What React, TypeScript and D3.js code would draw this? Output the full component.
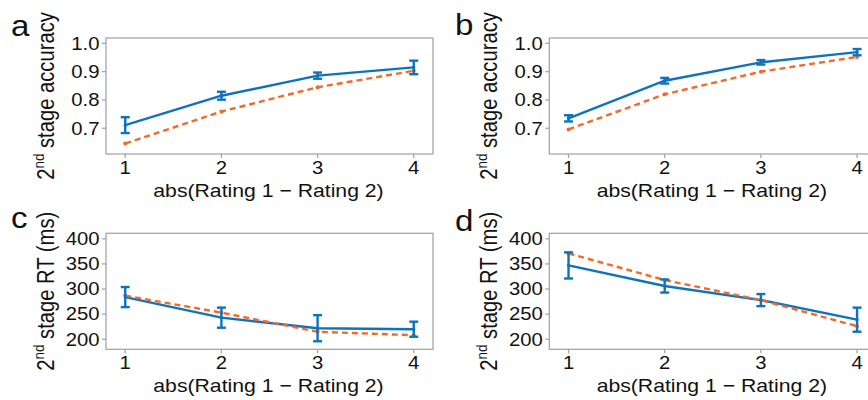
import React from "react";
import * as d3 from "d3";

const xCats = [1, 2, 3, 4];
const xTickLabels = ["1", "2", "3", "4"];

// Panel a: 2nd stage accuracy
const aBlueMean = [0.711, 0.815, 0.886, 0.915];
const aBlueErr = [0.028, 0.014, 0.011, 0.024];
const aOrange = [0.646, 0.759, 0.845, 0.903];
// Panel b
const bBlueMean = [0.735, 0.868, 0.933, 0.969];
const bBlueErr = [0.011, 0.01, 0.008, 0.011];
const bOrange = [0.696, 0.82, 0.9, 0.952];
// Panel c: 2nd stage RT
const cBlueMean = [284, 243, 222, 220];
const cBlueErr = [20, 20, 26, 15];
const cOrange = [287, 253, 215, 208];
// Panel d
const dBlueMean = [347, 306, 278, 239];
const dBlueErr = [26, 13, 12, 24];
const dOrange = [371, 318, 278, 226];

const accTicks = [0.7, 0.8, 0.9, 1.0];
const rtTicks = [200, 250, 300, 350, 400];

const BLUE = "#0F73BA";
const ORANGE = "#F4682A";
const GREY = "#A6A6A6";
const FONT = "'Liberation Sans', Arial, sans-serif";
const SX = 1.14;

type PanelProps = {
  letter: string;
  left: number;
  top: number;
  yDomain: [number, number];
  yTicks: number[];
  yFmt: (v: number) => string;
  yTitle: string;
  blue: number[];
  err: number[];
  orange: number[];
  letterPos: [number, number];
};

function Panel(p: PanelProps) {
  const W = 327;
  const H = 116;
  const x = d3.scaleLinear().domain([0.8, 4.2]).range([p.left, p.left + W]);
  const y = d3.scaleLinear().domain(p.yDomain).range([p.top + H, p.top]);
  const blueLine = d3
    .line<number>()
    .x((_, i) => x(xCats[i]))
    .y((v) => y(v));
  const bottom = p.top + H;
  const cap = 4.5;
  return (
    <g>
      <text
        transform={`translate(${p.letterPos[0]},${p.letterPos[1]}) scale(${SX},1)`}
        fontSize={29}
        fontFamily={FONT}
        fill="#111"
      >
        {p.letter}
      </text>
      <rect x={p.left} y={p.top} width={W} height={H} fill="white" stroke={GREY} strokeWidth={1.3} />
      {p.yTicks.map((t) => (
        <g key={t}>
          <line x1={p.left - 4} x2={p.left} y1={y(t)} y2={y(t)} stroke={GREY} strokeWidth={1.3} />
          <text
            transform={`translate(${p.left - 6.5},${y(t) + 6.3}) scale(${SX},1)`}
            textAnchor="end"
            fontSize={17.8}
            fontFamily={FONT}
            fill="#111"
          >
            {p.yFmt(t)}
          </text>
        </g>
      ))}
      {xCats.map((c, i) => (
        <g key={c}>
          <line x1={x(c)} x2={x(c)} y1={bottom} y2={bottom + 4} stroke={GREY} strokeWidth={1.3} />
          <text
            transform={`translate(${x(c)},${bottom + 19.5}) scale(${SX},1)`}
            textAnchor="middle"
            fontSize={17.8}
            fontFamily={FONT}
            fill="#111"
          >
            {xTickLabels[i]}
          </text>
        </g>
      ))}
      <text
        transform={`translate(${p.left + W / 2 - 1},${bottom + 42.7}) scale(${SX},1)`}
        textAnchor="middle"
        fontSize={18.6}
        fontFamily={FONT}
        fill="#111"
      >
        abs(Rating 1 − Rating 2)
      </text>
      <text
        transform={`translate(${p.left - 52.5},${p.top + H / 2}) scale(${SX},1) rotate(-90)`}
        textAnchor="middle"
        fontSize={20.2}
        fontFamily={FONT}
        fill="#111"
      >
        <tspan>2</tspan>
        <tspan dy={-8.5} fontSize={13.5}>nd</tspan>
        <tspan dy={8.5}>{" " + p.yTitle}</tspan>
      </text>
      <path d={blueLine(p.blue) || ""} fill="none" stroke={BLUE} strokeWidth={2.4} />
      <path
        d={blueLine(p.orange) || ""}
        fill="none"
        stroke={ORANGE}
        strokeWidth={2.4}
        strokeDasharray="6,4"
      />
      {p.orange.map((v, i) => (
        <circle key={"o" + i} cx={x(xCats[i])} cy={y(v)} r={2} fill={ORANGE} />
      ))}
      {p.blue.map((v, i) => {
        const cx = x(xCats[i]);
        const y1 = y(v + p.err[i]);
        const y2 = y(v - p.err[i]);
        return (
          <g key={"b" + i} stroke={BLUE} strokeWidth={2.4}>
            <line x1={cx} x2={cx} y1={y1} y2={y2} />
            <line x1={cx - cap} x2={cx + cap} y1={y1} y2={y1} />
            <line x1={cx - cap} x2={cx + cap} y1={y2} y2={y2} />
            <circle cx={cx} cy={y(v)} r={1.6} fill={BLUE} stroke="none" />
          </g>
        );
      })}
    </g>
  );
}

export default function App() {
  const accFmt = (v: number) => d3.format(".1f")(v);
  const rtFmt = (v: number) => String(v);
  return (
    <svg
      width={868}
      height={400}
      style={{ position: "absolute", left: 0, top: 0, background: "white" }}
    >
      <rect width={868} height={400} fill="white" />
      <Panel
        letter="a"
        left={106}
        top={38}
        yDomain={[0.609, 1.019]}
        yTicks={accTicks}
        yFmt={accFmt}
        yTitle="stage accuracy"
        blue={aBlueMean}
        err={aBlueErr}
        orange={aOrange}
        letterPos={[11, 36]}
      />
      <Panel
        letter="b"
        left={549.3}
        top={38}
        yDomain={[0.609, 1.019]}
        yTicks={accTicks}
        yFmt={accFmt}
        yTitle="stage accuracy"
        blue={bBlueMean}
        err={bBlueErr}
        orange={bOrange}
        letterPos={[455, 35]}
      />
      <Panel
        letter="c"
        left={106}
        top={233.3}
        yDomain={[180, 411]}
        yTicks={rtTicks}
        yFmt={rtFmt}
        yTitle="stage RT (ms)"
        blue={cBlueMean}
        err={cBlueErr}
        orange={cOrange}
        letterPos={[11, 228]}
      />
      <Panel
        letter="d"
        left={549.3}
        top={233.3}
        yDomain={[180, 411]}
        yTicks={rtTicks}
        yFmt={rtFmt}
        yTitle="stage RT (ms)"
        blue={dBlueMean}
        err={dBlueErr}
        orange={dOrange}
        letterPos={[455, 231]}
      />
    </svg>
  );
}
